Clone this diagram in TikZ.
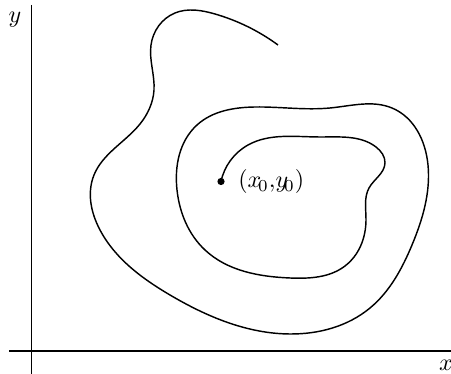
\documentclass[tikz,border=0pt]{standalone}
\usetikzlibrary{positioning, hobby}
\begin{document}
\begin{tikzpicture}[
  x=0.4167pt, y=-0.4167pt,
  axis/.style={line width=0.6pt},
  traj/.style={line width=0.6pt, line join=round, use Hobby shortcut},
  dot/.style={circle, fill, inner sep=0pt, minimum size=3pt},
]
\useasboundingbox (0,0) rectangle (451,374);

% Axes
\coordinate (ytop) at (31.5,5);
\coordinate (ybot) at (31.5,374);
\coordinate (xleft) at (9,351);
\coordinate (xright) at (451,351);
\draw[axis] (ytop) -- (ybot);
\draw[axis] (xleft) -- (xright);
\node (ylab) at (15,20) {$y$};
\node (xlab) at (446,365) {$x$};

% Start point
\node[dot] (p0) at (221,181.5) {};
\node[right=2pt of p0] (p0lab) {$(x_{\!0},\!y_{\!0})$};

% Trajectory
\draw[traj] (p0.center) .. (248,145) .. (320,137) .. (376,147)
  .. (385,163) .. (369,188) .. (366,220) .. (345,266) .. (290,278)
  .. (205,250) .. (177,190) .. (197,125) .. (255,107) .. (330,108)
  .. (392,108) .. (428,165) .. (412,245) .. (370,308) .. (290,334)
  .. (170,295) .. (100,230) .. (94,175) .. (140,124) .. (154,90)
  .. (151,45) .. (175,13) .. (215,14) .. (278,45);
\end{tikzpicture}
\end{document}
